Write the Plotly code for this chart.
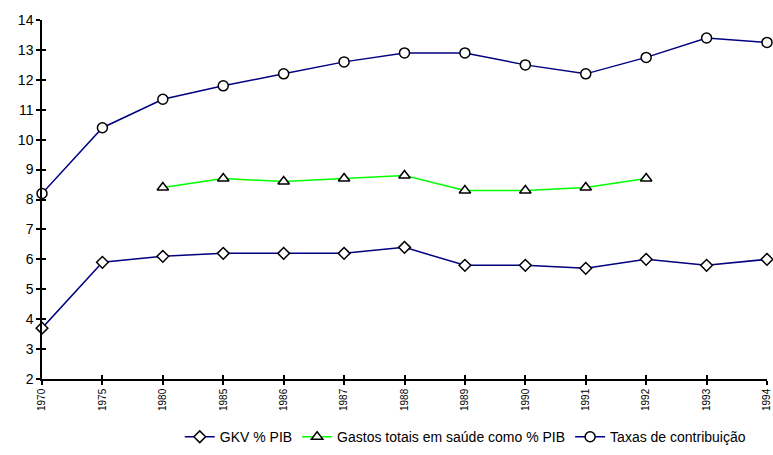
import plotly.graph_objects as go

anos = ["1970", "1975", "1980", "1985", "1986", "1987", "1988",
        "1989", "1990", "1991", "1992", "1993", "1994"]

gkv_pib = [3.7, 5.9, 6.1, 6.2, 6.2, 6.2, 6.4, 5.8, 5.8, 5.7, 6.0, 5.8, 6.0]
gastos_saude = [None, None, 8.4, 8.7, 8.6, 8.7, 8.8, 8.3, 8.3, 8.4, 8.7, None, None]
taxas_contrib = [8.2, 10.4, 11.35, 11.8, 12.2, 12.6, 12.9, 12.9, 12.5, 12.2, 12.75, 13.4, 13.25]

y_ticks = list(range(2, 15))

fig = go.Figure()

def serie(nome, valores, cor, simbolo, tamanho):
    fig.add_trace(go.Scatter(
        x=anos, y=valores, name=nome, mode="lines+markers",
        line=dict(color=cor, width=1.5),
        marker=dict(symbol=simbolo, size=tamanho, color="white",
                    line=dict(color="black", width=1.5)),
        cliponaxis=False, connectgaps=False,
    ))

serie("GKV % PIB", gkv_pib, "#000080", "diamond", 9)
serie("Gastos totais em saúde como % PIB", gastos_saude, "#00FF00", "triangle-up", 10)
serie("Taxas de contribuição", taxas_contrib, "#000080", "circle", 10)

fig.update_layout(
    width=773, height=455,
    margin=dict(l=42, r=6, t=20, b=76, autoexpand=False),
    paper_bgcolor="white", plot_bgcolor="white",
    font=dict(family="Liberation Sans, Arial", color="black", size=14),
    showlegend=True,
    legend=dict(orientation="h", x=0.19, xanchor="left", y=-0.162, yanchor="middle",
                font=dict(size=14), tracegroupgap=0),
    xaxis=dict(type="category", categoryorder="array", categoryarray=anos,
               range=[0, len(anos) - 1], showgrid=False, zeroline=False,
               showline=True, linecolor="black", linewidth=1.5, automargin=False,
               ticks="outside", ticklen=4, tickcolor="black", tickwidth=1.5,
               tickangle=-90, tickfont=dict(size=10)),
    yaxis=dict(range=[2, 14], tickvals=y_ticks, showgrid=False, zeroline=False,
               showline=True, linecolor="black", linewidth=1.5, automargin=False,
               ticks="outside", ticklen=4, tickcolor="black", tickwidth=1.5,
               tickfont=dict(size=14)),
    xaxis2=dict(type="category", categoryorder="array", categoryarray=anos,
                range=[0, len(anos) - 1], overlaying="x", matches="x",
                showgrid=False, zeroline=False, showticklabels=False,
                ticks="inside", ticklen=4, tickcolor="black", tickwidth=1.5,
                anchor="y", automargin=False),
    yaxis2=dict(range=[2, 14], tickvals=y_ticks, overlaying="y",
                showgrid=False, zeroline=False, showticklabels=False,
                ticks="inside", ticklen=4, tickcolor="black", tickwidth=1.5,
                anchor="x", automargin=False),
)

# Invisible trace to carry the inner half of the crossing tick marks
fig.add_trace(go.Scatter(x=anos, y=gkv_pib, xaxis="x2", yaxis="y2",
                         mode="none", showlegend=False, hoverinfo="skip"))

fig.write_html("out.html")
